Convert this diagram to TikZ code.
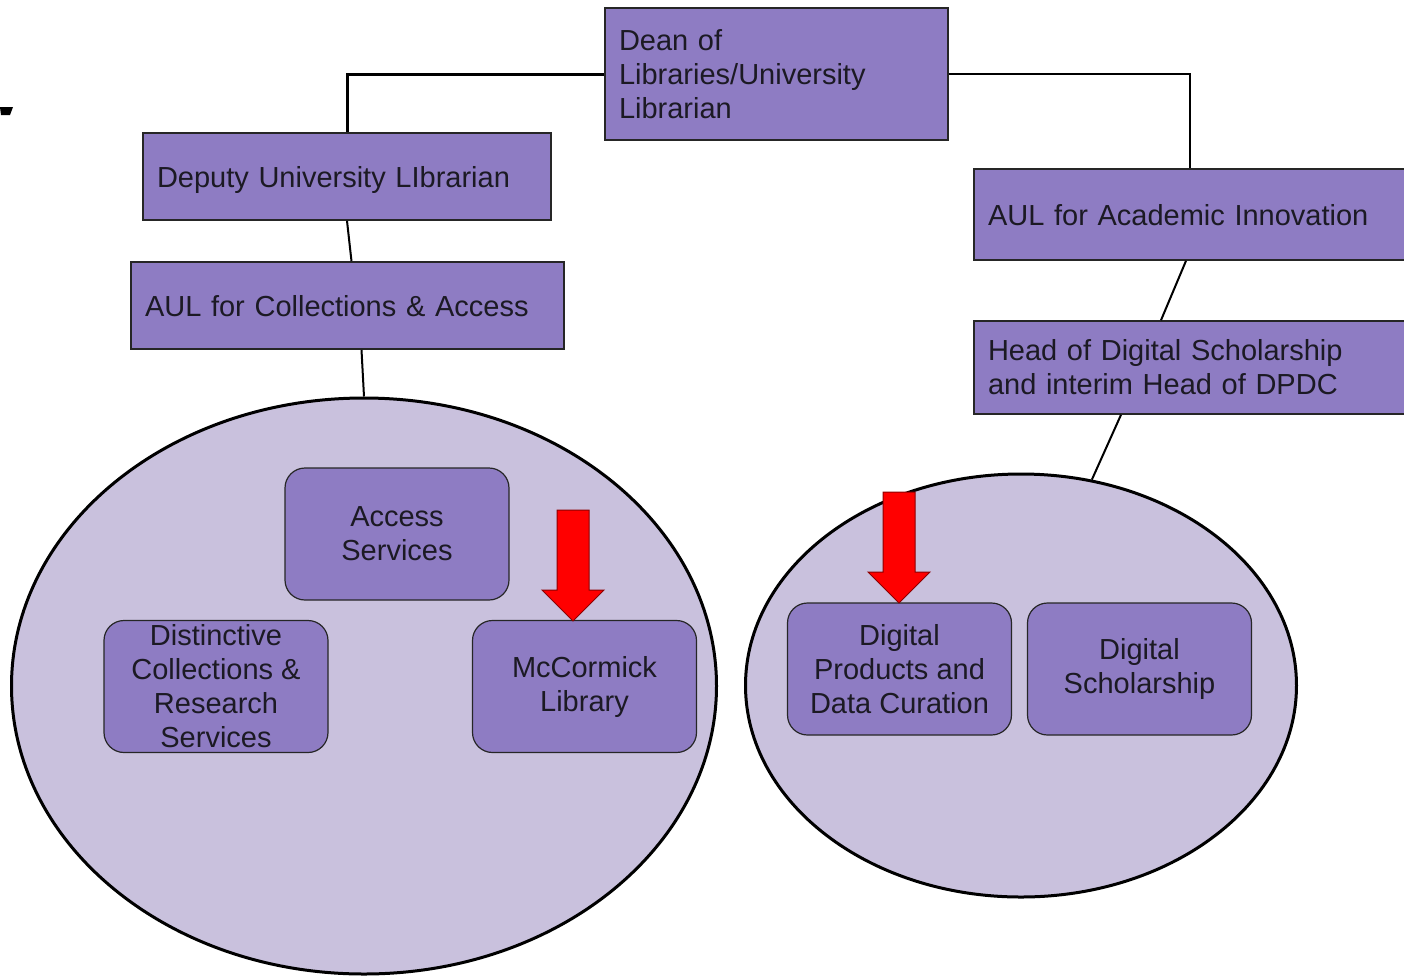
\documentclass[tikz,border=0pt]{standalone}
\usepackage{fontspec}
\setmainfont{Liberation Sans}
\usetikzlibrary{shapes.geometric}
\definecolor{boxpurple}{HTML}{8E7CC3}
\definecolor{ringpurple}{HTML}{C9C1DD}
\definecolor{inkdark}{HTML}{1C1A24}
\tikzset{
  post/.style={rectangle,draw=black!85,line width=0.8pt,fill=boxpurple,text=inkdark,
    align=left,inner xsep=7pt,inner ysep=0pt,font=\fontsize{14.5}{17}\selectfont},
  oneline/.style={text height=10.5pt,text depth=0pt},
  unit/.style={rectangle,rounded corners=10pt,draw=black!85,line width=0.6pt,fill=boxpurple,
    text=inkdark,align=center,minimum width=112pt,minimum height=66pt,inner sep=0pt,
    font=\fontsize{14.5}{17}\selectfont},
  ring/.style={ellipse,draw=black,line width=1.5pt,fill=ringpurple,inner sep=0pt},
  link/.style={line width=1pt,black}
}
\begin{document}
\begin{tikzpicture}[x=0.5pt,y=-0.5pt]
        \useasboundingbox (0,0) rectangle (1404,976);
        \fill[black] (0,107) -- (13,107) -- (10,115) -- (1,115) -- cycle; % marca
        % grupos
        \node[ring,minimum width=352.5pt,minimum height=288pt] (lring) at (364,686) {};
        \node[ring,minimum width=275.5pt,minimum height=211.5pt] (rring) at (1021,685.5) {};
        % cargos
        \node[post,text width=157.5pt,minimum height=66pt] (dean) at (776.5,74) {Dean of\\Libraries/University\\Librarian};
        \node[post,oneline,text width=190pt,minimum height=43.5pt] (dep) at (347,176.5) {Deputy University LIbrarian};
        \node[post,oneline,text width=202.5pt,minimum height=43.5pt] (coll) at (347.5,305.5) {AUL for Collections \& Access};
        \node[post,oneline,text width=202pt,minimum height=45.5pt] (acad) at (1190,214.5) {AUL for Academic Innovation};
        \node[post,text width=202pt,minimum height=46.5pt] (head) at (1190,367.5) {Head of Digital Scholarship\\and interim Head of DPDC};
        % unidades
        \node[unit] (acc) at (397,534) {Access\\Services};
        \node[unit] (dist) at (216,686.5) {Distinctive\\Collections \&\\Research\\Services};
        \node[unit] (mcc) at (584.5,686.5) {McCormick\\Library};
        \node[unit] (dpdc) at (899.5,669) {Digital\\Products and\\Data Curation};
        \node[unit] (dsch) at (1139.5,669) {Digital\\Scholarship};
        % lineas
        \draw[link,line width=1.5pt] (dean.west) -| (dep.north);
        \draw[link] (dean.east) -| (acad.north);
        \draw[link] (dep.south) -- ([xshift=2pt]coll.north);
        \draw[link] ([xshift=7pt]coll.south) -- (lring.north);
        \draw[link] ([xshift=-2pt]acad.south) -- ([xshift=-14.5pt]head.north);
        \draw[link] ([xshift=-34.5pt]head.south) -- (rring.71);
        % flechas rojas
        \foreach \x/\y in {573/621,899/603}
        \draw[fill=red,draw=red!55!black,line width=0.5pt] (\x,\y) -- (\x-31,\y-31) -- (\x-16,\y-31)
          -- (\x-16,\y-111) -- (\x+16,\y-111) -- (\x+16,\y-31) -- (\x+31,\y-31) -- cycle;
\end{tikzpicture}
\end{document}
